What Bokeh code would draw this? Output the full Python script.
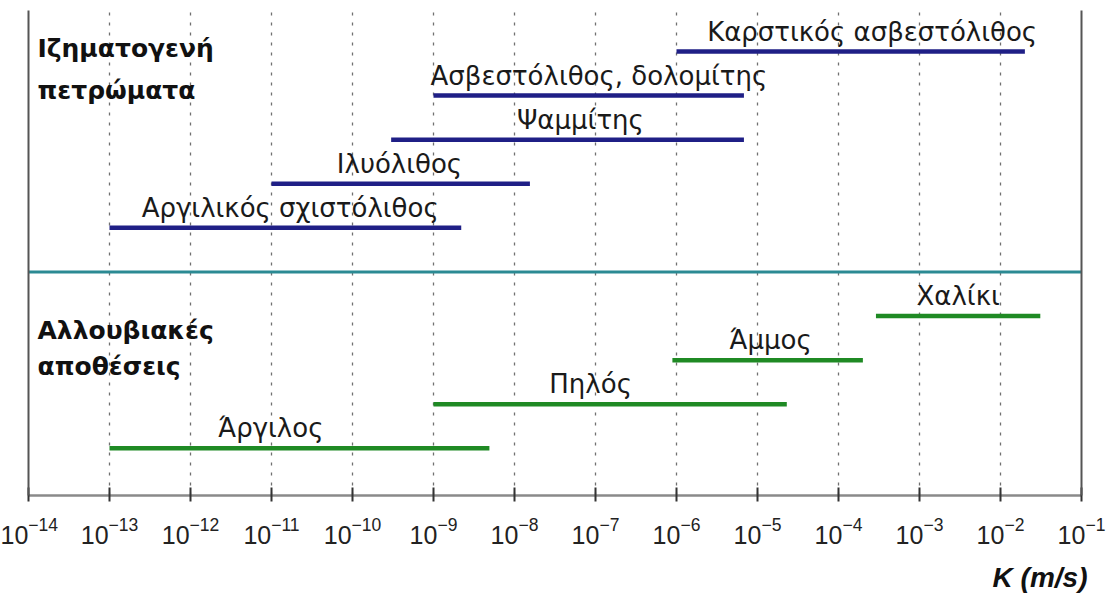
from bokeh.plotting import figure
from bokeh.models import (Range1d, FixedTicker, LogTickFormatter, ColumnDataSource,
                          LinearAxis, Title)
from bokeh.core.properties import value
from bokeh.embed import file_html
from bokeh.resources import INLINE

# ---------------- data (hydraulic conductivity K, m/s) ----------------
sed_group = ["Ιζηματογενή", "πετρώματα"]
sed_names = ["Καρστικός ασβεστόλιθος", "Ασβεστόλιθος, δολομίτης", "Ψαμμίτης",
             "Ιλυόλιθος", "Αργιλικός σχιστόλιθος"]
sed_kmin = [1.0e-6, 1.0e-9, 3.0e-10, 1.0e-11, 1.0e-13]
sed_kmax = [2.0e-2, 6.8e-6, 6.8e-6, 1.55e-8, 2.2e-9]
sed_label_at = [2.6e-4, 1.1e-7, 6.5e-8, 3.8e-10, 1.7e-11]

all_group = ["Αλλουβιακές", "αποθέσεις"]
all_names = ["Χαλίκι", "Άμμος", "Πηλός", "Άργιλος"]
all_kmin = [2.9e-4, 8.9e-7, 1.0e-9, 1.0e-13]
all_kmax = [3.1e-2, 2.0e-4, 2.3e-5, 4.9e-9]
all_label_at = [3.0e-3, 1.45e-5, 8.7e-8, 9.8e-12]

tick_exponents = [-14, -13, -12, -11, -10, -9, -8, -7, -6, -5, -4, -3, -2, -1]
axis_label = "K (m/s)"

# ---------------- layout helpers ----------------
x_lo = 10.0 ** tick_exponents[0]
x_hi = 10.0 ** tick_exponents[-1]
n_slots = 11
lift = 0.07
sed_y = [n_slots - 1 - i + lift for i in range(len(sed_names))]
sep_y = n_slots - 1 - len(sed_names) + lift
all_y = [sep_y - 1 - i for i in range(len(all_names))]

NAVY = "#1f1f86"
GREEN = "#1f8a24"
TEAL = "#2b8a93"
LABEL_FONT = "DejaVu Sans"

p = figure(width=1109, height=607, x_axis_type="log",
           x_range=Range1d(x_lo, x_hi), y_range=Range1d(0, n_slots),
           output_backend="svg", toolbar_location=None,
           min_border_left=28, min_border_right=28, min_border_top=10,
           min_border_bottom=112, background_fill_color="white",
           border_fill_color="white", outline_line_color=None)

# grid
p.ygrid.visible = False
p.xgrid.grid_line_color = "#707070"
p.xgrid.grid_line_dash = "3 7"
p.xgrid.grid_line_width = 1.3

# x axis
xa = p.xaxis[0]
xa.ticker = FixedTicker(ticks=[10.0 ** e for e in tick_exponents], minor_ticks=[])
xa.formatter = LogTickFormatter()
xa.axis_line_color = "#8a8a8a"
xa.axis_line_width = 2.5
xa.major_tick_line_color = "#333333"
xa.major_tick_line_width = 2
xa.major_tick_in = 8
xa.major_tick_out = 6
xa.minor_tick_line_color = None
xa.major_label_text_font = "Liberation Sans"
xa.major_label_text_font_size = "25px"
xa.major_label_text_color = "#222222"
xa.major_label_standoff = 15

# left & right frame lines
ya = p.yaxis[0]
ya.ticker = FixedTicker(ticks=[])
ya.axis_line_color = "#555555"
ya.axis_line_width = 2
ya.major_tick_line_color = None
ya.minor_tick_line_color = None
ya.major_label_text_font_size = "0px"
ya.major_label_standoff = 0
ra = LinearAxis(ticker=FixedTicker(ticks=[]), axis_line_color="#555555", axis_line_width=2,
                major_tick_line_color=None, minor_tick_line_color=None,
                major_label_text_font_size="0px", major_label_standoff=0)
p.add_layout(ra, "right")

# axis label as a right-aligned title under the axis
p.add_layout(Title(text=axis_label, align="right", text_font="Liberation Sans",
                   text_font_style="bold italic", text_font_size="28px",
                   text_color="#111111", standoff=26, offset=-6), "below")

# separator
p.segment(x0=[x_lo], x1=[x_hi], y0=[sep_y], y1=[sep_y], line_color=TEAL, line_width=3)

# bars
sed_src = ColumnDataSource(dict(name=sed_names, k0=sed_kmin, k1=sed_kmax, y=sed_y, lx=sed_label_at))
all_src = ColumnDataSource(dict(name=all_names, k0=all_kmin, k1=all_kmax, y=all_y, lx=all_label_at))
for src, col in ((sed_src, NAVY), (all_src, GREEN)):
    p.segment(x0="k0", x1="k1", y0="y", y1="y", source=src, line_color=col, line_width=4.5)
    p.text(x="lx", y="y", text="name", source=src, text_font=value(LABEL_FONT),
           text_font_size="26px", text_color="#1a1a1a", text_align="center",
           text_baseline="middle", y_offset=-20)

# group labels
grp_src = ColumnDataSource(dict(
    t=sed_group + all_group,
    x=[x_lo] * 4,
    y=[sed_y[0], sed_y[0], all_y[0], all_y[0]],
    dy=[-3, 39, 14, 50]))
p.text(x="x", y="y", text="t", source=grp_src, x_offset=9, y_offset="dy",
       text_font=value(LABEL_FONT), text_font_style="bold", text_font_size="25px",
       text_color="#111111", text_align="left", text_baseline="alphabetic")

open("out.html", "w").write(file_html(p, INLINE))
